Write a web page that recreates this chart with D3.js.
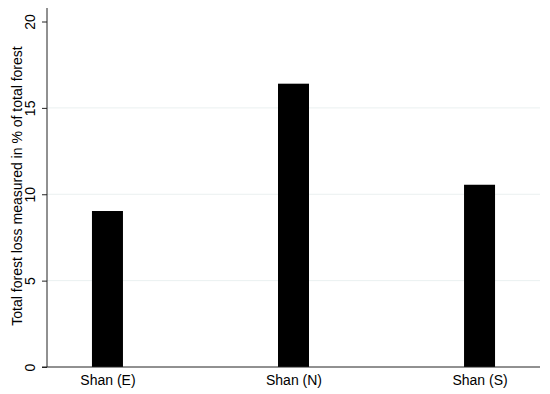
<!DOCTYPE html>
<html><head><meta charset="utf-8">
<script src="https://cdn.jsdelivr.net/npm/d3@7"></script>
<style>body{margin:0;background:#fff}svg{display:block}text{font-family:"Liberation Sans",Arial,Helvetica,sans-serif}</style>
</head><body>
<script>
const categories = ["Shan (E)", "Shan (N)", "Shan (S)"];
const values = [9.03, 16.4, 10.55];
const yTicks = [0, 5, 10, 15, 20];
const gridTicks = [5, 10, 15];
const yTitle = "Total forest loss measured in % of total forest";

const W = 550, H = 394;
const svg = d3.select("body").append("svg").attr("width", W).attr("height", H);
const x0 = 47, x1 = 540, yTop = 8;
const y = d3.scaleLinear().domain([0, 20]).range([367, 21.5]);
const x = d3.scalePoint().domain(categories).range([x0, x1]).padding(0.325);
const bw = 31;

// grid
svg.append("g").selectAll("line").data(gridTicks).join("line")
  .attr("x1", x0).attr("x2", x1).attr("y1", d => y(d)).attr("y2", d => y(d))
  .attr("stroke", "#eaf0f0").attr("stroke-width", 1);

// bars
svg.append("g").selectAll("rect").data(values).join("rect")
  .attr("x", (d, i) => x(categories[i]) - bw / 2).attr("width", bw)
  .attr("y", d => y(d)).attr("height", d => y(0) - y(d)).attr("fill", "#000");

// y axis
const ya = svg.append("g").attr("transform", `translate(${x0},0)`)
  .call(d3.axisLeft(y).tickValues(yTicks).tickSize(5).tickPadding(10).tickFormat(d3.format("d")));
ya.select(".domain").remove();
ya.selectAll(".tick line").attr("stroke", "#222");
ya.selectAll(".tick text").attr("font-size", 14).attr("fill", "#000")
  .attr("text-anchor", "middle")
  .attr("x", 0).attr("y", 0).attr("dy", null)
  .attr("transform", "translate(-12,0) rotate(-90)");
svg.append("line").attr("x1", x0).attr("x2", x0).attr("y1", yTop).attr("y2", y(0)).attr("stroke", "#222");

// x axis
const xa = svg.append("g").attr("transform", `translate(0,${y(0)})`)
  .call(d3.axisBottom(x).tickSize(0).tickPadding(8));
xa.select(".domain").remove();
xa.selectAll(".tick text").attr("font-size", 14).attr("fill", "#000");
svg.append("line").attr("x1", 42).attr("x2", x1).attr("y1", y(0)).attr("y2", y(0)).attr("stroke", "#222");

// y title
svg.append("text").attr("transform", `translate(22,186) rotate(-90)`)
  .attr("text-anchor", "middle").attr("font-size", 14).attr("fill", "#000").text(yTitle);
</script>
</body></html>
